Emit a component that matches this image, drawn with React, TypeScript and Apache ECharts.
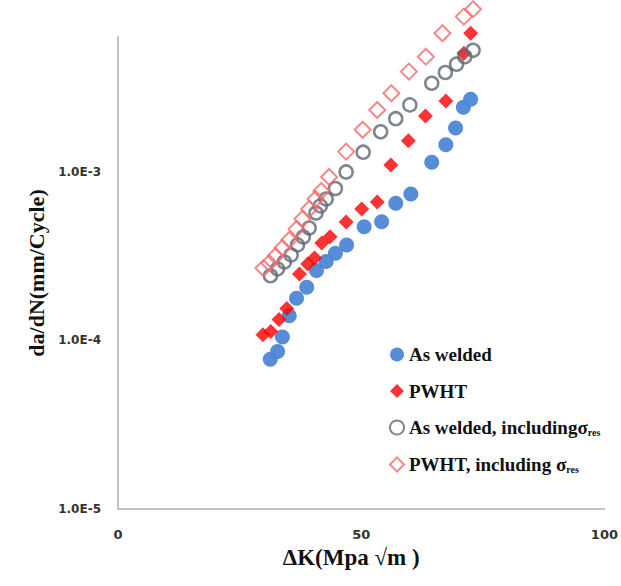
import React, { useEffect, useRef } from "react";
import * as echarts from "echarts";

// ΔK values (MPa√m) and crack growth rates (mm/cycle)
const asWeldedK = [31.3, 32.8, 33.8, 35.2, 36.7, 38.8, 40.8, 42.8, 44.7, 47.0, 50.6, 54.2, 57.1, 60.2, 64.5, 67.4, 69.4, 71.0, 72.5];
const asWeldedRate = [7.74e-5, 8.59e-5, 1.05e-4, 1.4e-4, 1.78e-4, 2.07e-4, 2.6e-4, 2.94e-4, 3.29e-4, 3.69e-4, 4.73e-4, 5.07e-4, 6.52e-4, 7.4e-4, 1.14e-3, 1.45e-3, 1.82e-3, 2.42e-3, 2.7e-3];

const pwhtK = [29.8, 31.4, 33.1, 34.7, 37.3, 39.0, 40.4, 41.9, 43.6, 46.9, 50.1, 53.3, 56.1, 59.7, 63.2, 67.4, 71.1, 72.5];
const pwhtRate = [1.08e-4, 1.13e-4, 1.33e-4, 1.55e-4, 2.48e-4, 2.84e-4, 3.09e-4, 3.79e-4, 4.13e-4, 5.05e-4, 6.03e-4, 6.64e-4, 1.1e-3, 1.53e-3, 2.15e-3, 2.64e-3, 5.06e-3, 6.65e-3];

const asWeldedResK = [31.35, 32.8, 34.2, 35.6, 36.9, 38.1, 39.3, 40.7, 41.6, 42.8, 44.7, 46.9, 50.4, 54.0, 57.1, 60.0, 64.5, 67.3, 69.6, 71.3, 73.0];
const asWeldedResRate = [2.42e-4, 2.66e-4, 2.92e-4, 3.22e-4, 3.69e-4, 4.11e-4, 4.65e-4, 5.71e-4, 6.29e-4, 6.91e-4, 7.98e-4, 1.0e-3, 1.31e-3, 1.73e-3, 2.07e-3, 2.5e-3, 3.36e-3, 3.89e-3, 4.36e-3, 4.83e-3, 5.27e-3];

const pwhtResK = [29.9, 31.1, 32.4, 33.8, 35.2, 36.7, 37.9, 39.3, 40.6, 41.8, 43.4, 46.9, 50.3, 53.3, 56.2, 59.8, 63.3, 66.7, 71.1, 73.0];
const pwhtResRate = [2.69e-4, 2.88e-4, 3.17e-4, 3.54e-4, 3.95e-4, 4.59e-4, 5.26e-4, 6.03e-4, 6.91e-4, 7.71e-4, 9.34e-4, 1.32e-3, 1.78e-3, 2.33e-3, 2.93e-3, 3.94e-3, 4.83e-3, 6.65e-3, 8.35e-3, 9.24e-3];

const seriesNames = ["As welded", "PWHT", "As welded, including σres", "PWHT, including σres"];
const legendLabels = [
  "{t|As welded}",
  "{t|PWHT}",
  "{t|As welded, including}{g|σ}{s|res}",
  "{t|PWHT, including }{g|σ}{s|res}",
];

const xTicks = { min: 0, max: 100, interval: 50 };
const yRange = { min: 1e-5, max: 0.00632 };

const pairs = (xs: number[], ys: number[]) => xs.map((x, i) => [x, ys[i]]);

const serif = '"Liberation Serif", "Times New Roman", serif';
const sans = '"DejaVu Sans", "Liberation Sans", sans-serif';

export default function App() {
  const ref = useRef<HTMLDivElement>(null);
  useEffect(() => {
    if (!ref.current) return;
    const chart = echarts.init(ref.current, null, { renderer: "svg" });
    chart.setOption({
      animation: false,
      backgroundColor: "#ffffff",
      grid: { left: 118, right: 15, top: 37, bottom: 77, containLabel: false },
      xAxis: {
        type: "value",
        min: xTicks.min,
        max: xTicks.max,
        interval: xTicks.interval,
        name: "ΔK(Mpa √m )",
        nameLocation: "middle",
        nameGap: 27,
        nameTextStyle: { fontFamily: serif, fontWeight: "bold", fontSize: 23, color: "#111", padding: [0, 20, 0, 0] },
        axisLine: { show: true, lineStyle: { color: "#c3c3c3", width: 2 } },
        axisTick: { show: false },
        splitLine: { show: false },
        axisLabel: { fontFamily: sans, fontWeight: "bold", fontSize: 13, color: "#333", margin: 19 },
      },
      yAxis: {
        type: "log",
        logBase: 10,
        min: yRange.min,
        max: yRange.max,
        name: "da/dN(mm/Cycle)",
        nameLocation: "middle",
        nameGap: 62,
        nameTextStyle: { fontFamily: serif, fontWeight: "bold", fontSize: 22, color: "#111" },
        axisLine: { show: true, lineStyle: { color: "#c3c3c3", width: 2 } },
        axisTick: { show: false },
        splitLine: { show: false },
        axisLabel: {
          fontFamily: sans,
          fontWeight: "bold",
          fontSize: 12,
          color: "#333",
          margin: 17,
          showMaxLabel: false,
          formatter: (v: number) => v.toExponential(1).toUpperCase(),
        },
      },
      legend: {
        orient: "vertical",
        left: 384,
        top: 340,
        itemGap: 17.5,
        itemWidth: 14,
        itemHeight: 14,
        data: seriesNames,
        formatter: (name: string) => legendLabels[seriesNames.indexOf(name)],
        textStyle: {
          rich: {
            t: { fontFamily: serif, fontWeight: "bold", fontSize: 19, color: "#111", lineHeight: 20 },
            g: { fontFamily: serif, fontWeight: "bold", fontSize: 19, color: "#111", lineHeight: 20 },
            s: { fontFamily: serif, fontWeight: "bold", fontSize: 10, color: "#111", lineHeight: 10, verticalAlign: "bottom" },
          },
        },
      },
      series: [
        {
          name: seriesNames[0],
          type: "scatter",
          clip: false,
          symbol: "circle",
          symbolSize: 15,
          itemStyle: { color: "#4d86d6", opacity: 0.95 },
          data: pairs(asWeldedK, asWeldedRate),
        },
        {
          name: seriesNames[1],
          type: "scatter",
          clip: false,
          symbol: "diamond",
          symbolSize: 15,
          itemStyle: { color: "#ff0000" },
          data: pairs(pwhtK, pwhtRate),
        },
        {
          name: seriesNames[2],
          type: "scatter",
          clip: false,
          symbol: "circle",
          symbolSize: 13,
          itemStyle: { color: "rgba(255,255,255,0)", borderColor: "#5e6873", borderWidth: 2.5 },
          data: pairs(asWeldedResK, asWeldedResRate),
        },
        {
          name: seriesNames[3],
          type: "scatter",
          clip: false,
          symbol: "diamond",
          symbolSize: 16,
          itemStyle: { color: "rgba(255,255,255,0)", borderColor: "#f36b6b", borderWidth: 2 },
          data: pairs(pwhtResK, pwhtResRate),
        },
      ],
    });
    return () => chart.dispose();
  }, []);
  return (
    <div
      ref={ref}
      style={{ position: "fixed", left: 0, top: 0, width: 621, height: 586, background: "#fff" }}
    />
  );
}
